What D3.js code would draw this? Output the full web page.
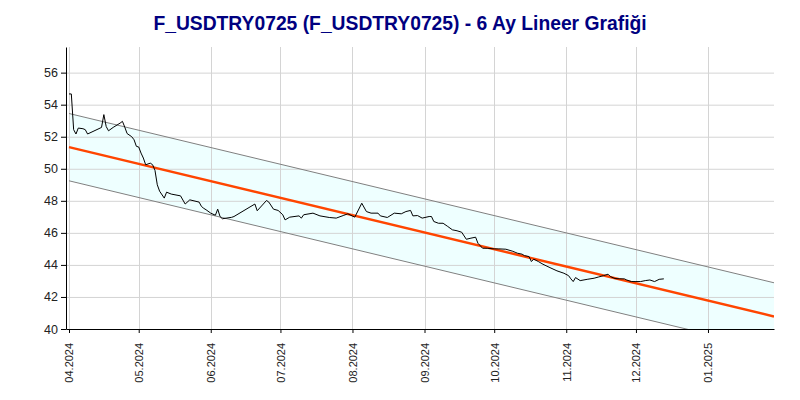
<!DOCTYPE html>
<html>
<head>
<meta charset="utf-8">
<script src="https://cdn.jsdelivr.net/npm/d3@7"></script>
<style>
  html, body { margin: 0; padding: 0; background: #fff; }
  svg { display: block; font-family: Arial, "Liberation Sans", sans-serif; }
</style>
</head>
<body>
<svg id="chart" width="800" height="400"></svg>
<script>
const title = "F_USDTRY0725 (F_USDTRY0725) - 6 Ay Lineer Grafiği";

const dates = [
  "2024-04-01","2024-04-02","2024-04-03","2024-04-04","2024-04-05","2024-04-07","2024-04-08","2024-04-09",
  "2024-04-15","2024-04-16","2024-04-17","2024-04-18","2024-04-20","2024-04-23","2024-04-24","2024-04-25",
  "2024-04-26","2024-04-28","2024-04-29","2024-04-30","2024-05-01","2024-05-02","2024-05-03","2024-05-04",
  "2024-05-06","2024-05-07","2024-05-08","2024-05-09","2024-05-10","2024-05-12","2024-05-13","2024-05-15",
  "2024-05-19","2024-05-21","2024-05-23","2024-05-27","2024-05-28","2024-05-29","2024-05-30","2024-06-01",
  "2024-06-03","2024-06-04","2024-06-05","2024-06-06","2024-06-10","2024-06-11","2024-06-20","2024-06-21",
  "2024-06-25","2024-06-26","2024-06-28","2024-06-30","2024-07-02","2024-07-03","2024-07-05","2024-07-09",
  "2024-07-10","2024-07-11","2024-07-15","2024-07-18","2024-07-22","2024-07-25","2024-07-28","2024-07-30",
  "2024-08-02","2024-08-05","2024-08-07","2024-08-09","2024-08-12","2024-08-13","2024-08-16","2024-08-19",
  "2024-08-22","2024-08-24","2024-08-26","2024-08-27","2024-08-29","2024-08-31","2024-09-03","2024-09-04",
  "2024-09-05","2024-09-07","2024-09-09","2024-09-11","2024-09-13","2024-09-15","2024-09-17","2024-09-19",
  "2024-09-21","2024-09-23","2024-09-24","2024-09-26","2024-09-28","2024-10-01","2024-10-03","2024-10-06",
  "2024-10-09","2024-10-10","2024-10-11","2024-10-13","2024-10-14","2024-10-16","2024-10-17","2024-10-18",
  "2024-10-20","2024-10-22","2024-10-25","2024-10-28","2024-10-31","2024-11-02","2024-11-03","2024-11-04",
  "2024-11-05","2024-11-07","2024-11-10","2024-11-13","2024-11-15","2024-11-17","2024-11-19","2024-11-20",
  "2024-11-22","2024-11-24","2024-11-26","2024-11-27","2024-11-29","2024-12-01","2024-12-03","2024-12-05",
  "2024-12-07","2024-12-09","2024-12-11","2024-12-13"
];
const prices = [
  54.67,54.67,52.44,52.17,52.54,52.50,52.44,52.17,
  52.58,53.38,52.64,52.37,52.58,52.85,52.96,52.60,
  52.20,52.00,51.81,51.40,51.36,50.98,50.67,50.25,
  50.35,50.25,49.90,49.00,48.60,48.17,48.54,48.42,
  48.31,47.80,48.06,47.92,47.65,47.53,47.44,47.23,
  47.10,47.48,47.02,46.88,46.97,47.02,47.80,47.38,
  48.02,47.92,47.48,47.40,47.13,46.81,46.98,47.06,
  46.92,47.13,47.23,47.06,46.96,46.92,47.08,47.19,
  46.98,47.85,47.33,47.23,47.23,47.06,46.96,47.23,
  47.19,47.33,47.40,47.06,47.08,46.92,47.02,47.02,
  46.71,46.60,46.60,46.40,46.19,46.13,46.04,45.60,
  45.67,45.73,45.35,45.04,45.04,45.00,45.00,44.98,
  44.85,44.79,44.73,44.67,44.58,44.52,44.21,44.36,
  44.21,44.04,43.83,43.63,43.48,43.33,43.13,42.96,
  43.21,43.02,43.10,43.17,43.25,43.33,43.42,43.27,
  43.15,43.13,43.13,43.06,42.96,42.96,42.96,43.02,
  43.06,42.96,43.10,43.13
];

// Linear trend: value at start and end dates, channel half-width
const trendDates = ["2024-04-01", "2025-01-29"];
const trendValues = [51.35, 40.80];
const channelWidth = 2.1;

const monthTicks = ["2024-04-01","2024-05-01","2024-06-01","2024-07-01","2024-08-01","2024-09-01",
                    "2024-10-01","2024-11-01","2024-12-01","2025-01-01"];
const yTicks = [40, 42, 44, 46, 48, 50, 52, 54, 56];
const xDomain = ["2024-03-30T17:00", "2025-01-29T10:00"];
const yDomain = [40, 57.6];

const parse = d3.isoParse;
const data = dates.map((d, i) => ({ date: parse(d), value: prices[i] }));

const margin = { left: 66, right: 26, top: 47, bottom: 71 };
const W = 800, H = 400;
const svg = d3.select("#chart");

const x = d3.scaleTime().domain(xDomain.map(parse)).range([margin.left, W - margin.right]);
const y = d3.scaleLinear().domain(yDomain).range([H - margin.bottom, margin.top]);

svg.append("defs").append("clipPath").attr("id", "clip")
  .append("rect").attr("x", margin.left).attr("y", margin.top)
  .attr("width", W - margin.right - margin.left).attr("height", H - margin.bottom - margin.top);

const t0 = parse(trendDates[0]), t1 = parse(trendDates[1]);
const slope = (trendValues[1] - trendValues[0]) / (t1 - t0);
const trend = d => trendValues[0] + slope * (d - t0);
const trendPts = [parse(trendDates[0]), x.domain()[1]];

const plot = svg.append("g").attr("clip-path", "url(#clip)");

plot.append("path")
  .datum(trendPts)
  .attr("fill", "#eeffff")
  .attr("d", d3.area().x(d => x(d)).y0(d => y(trend(d) - channelWidth)).y1(d => y(trend(d) + channelWidth)));

const gGrid = svg.append("g");
gGrid.selectAll("line.h").data(yTicks.filter(v => v > 40)).join("line")
  .attr("x1", margin.left).attr("x2", W - margin.right)
  .attr("y1", d => y(d) + 0.5).attr("y2", d => y(d) + 0.5)
  .attr("stroke", "#d4d4d4").attr("stroke-width", 1);
gGrid.selectAll("line.v").data(monthTicks.map(parse)).join("line")
  .attr("x1", d => Math.round(x(d)) + 0.5).attr("x2", d => Math.round(x(d)) + 0.5)
  .attr("y1", margin.top).attr("y2", H - margin.bottom)
  .attr("stroke", "#d4d4d4").attr("stroke-width", 1);

const plot2 = svg.append("g").attr("clip-path", "url(#clip)");
[channelWidth, -channelWidth].forEach(off => {
  plot2.append("path").datum(trendPts)
    .attr("fill", "none").attr("stroke", "#808080").attr("stroke-width", 1)
    .attr("d", d3.line().x(d => x(d)).y(d => y(trend(d) + off)));
});
plot2.append("path").datum(trendPts)
  .attr("fill", "none").attr("stroke", "#ff4500").attr("stroke-width", 2.5)
  .attr("d", d3.line().x(d => x(d)).y(d => y(trend(d))));

plot2.append("path").datum(data)
  .attr("fill", "none").attr("stroke", "#000").attr("stroke-width", 1)
  .attr("d", d3.line().x(d => x(d.date)).y(d => y(d.value)));

const yAxis = svg.append("g").attr("transform", `translate(${margin.left},0)`)
  .call(d3.axisLeft(y).tickValues(yTicks).tickSize(5).tickSizeOuter(0).tickFormat(d3.format("d")));
yAxis.select(".domain").attr("stroke", "#000");
yAxis.selectAll(".tick line").attr("stroke", "#000");
yAxis.selectAll("text").attr("font-size", 12.5).attr("fill", "#222")
  .attr("font-family", "Arial, 'Liberation Sans', sans-serif");

const xAxis = svg.append("g").attr("transform", `translate(0,${H - margin.bottom})`)
  .call(d3.axisBottom(x).tickValues(monthTicks.map(parse)).tickSize(4).tickSizeOuter(0)
    .tickFormat(d3.timeFormat("%m.%Y")));
xAxis.select(".domain").attr("stroke", "#000");
xAxis.selectAll(".tick line").attr("stroke", "#000");
xAxis.selectAll("text")
  .attr("font-size", 11).attr("fill", "#222")
  .attr("font-family", "Arial, 'Liberation Sans', sans-serif")
  .attr("transform", "rotate(-90)")
  .attr("text-anchor", "end")
  .attr("dx", "-0.9em").attr("dy", "0.35em")
  .attr("x", -4).attr("y", 0);

svg.append("text")
  .attr("x", 400).attr("y", 30)
  .attr("text-anchor", "middle")
  .attr("font-size", 19.3).attr("font-weight", "bold")
  .attr("fill", "#000080")
  .text(title);
</script>
</body>
</html>
